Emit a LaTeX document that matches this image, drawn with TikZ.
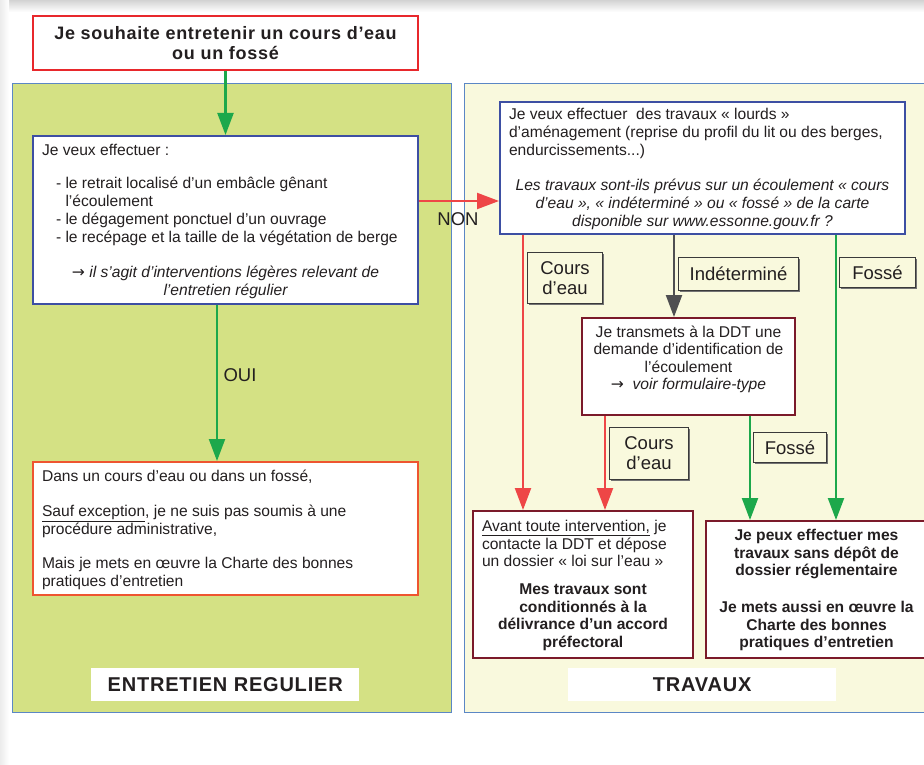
\documentclass[tikz,border=0pt]{standalone}
\usepackage{fontspec}
\setmainfont{Liberation Sans}
\newfontfamily\hdfont[LetterSpace=4]{Liberation Sans}
\newfontfamily\djv{DejaVu Sans}
\usetikzlibrary{arrows.meta,calc,shadows}
\definecolor{txt}{HTML}{231F20}
\definecolor{panelL}{HTML}{D4E184}
\definecolor{panelR}{HTML}{F9F9DD}
\definecolor{panelB}{HTML}{5B87C5}
\definecolor{redb}{HTML}{E8282C}
\definecolor{orangeb}{HTML}{EE5530}
\definecolor{blueb}{HTML}{3D4FA3}
\definecolor{darkred}{HTML}{7B1A2A}
\definecolor{rline}{HTML}{EE4646}
\definecolor{gline}{HTML}{1DA84B}
\definecolor{kline}{HTML}{4F4F51}
\definecolor{labgray}{HTML}{3A3A3A}
\newcommand{\rarr}{{\djv →}}
\begin{document}
\begin{tikzpicture}[x=1pt,y=-1pt,
  every node/.style={text=txt},
  body/.style={font=\fontsize{15.6}{18}\selectfont},
  boxn/.style={body, fill=white, line width=2pt, anchor=north west, inner xsep=9pt, inner ysep=8pt},
  lab/.style={draw=labgray, line width=1.1pt, fill=panelR, anchor=north west, inner sep=0pt,
    align=center, font=\fontsize{18.5}{20}\selectfont,
    drop shadow={shadow xshift=1.2pt, shadow yshift=-1.2pt, fill=black!55, opacity=1}},
  head/.style={fill=white, anchor=north west, inner sep=0pt, font=\hdfont\bfseries\fontsize{20}{22}\selectfont},
  plain/.style={font=\fontsize{18.5}{20}\selectfont},
  arr/.style={line width=2.2pt, -{Triangle[length=22pt,width=16pt]}},
  panel/.style={draw=panelB, line width=0.8pt}
]
\useasboundingbox (0,0) rectangle (924,765);
\fill[white] (0,0) rectangle (924,765);
\shade[top color=gray!35, bottom color=white] (0,0) rectangle (924,12);
\shade[left color=gray!15, right color=white] (0,0) rectangle (9,765);

% panels
\filldraw[panel, fill=panelL] (12,83) rectangle (451,712);
\filldraw[panel, fill=panelR] (464,83) rectangle (932,712);

% headings
\node[head, minimum width=268pt, minimum height=33pt] (hL) at (91,668) {ENTRETIEN REGULIER};
\node[head, minimum width=268pt, minimum height=33pt] (hR) at (568,668) {TRAVAUX};

% top box
\node[draw=redb, line width=2pt, fill=white, anchor=north west, minimum width=385pt, minimum height=54pt,
  inner sep=0pt, align=center, font=\hdfont\bfseries\fontsize{18}{20}\selectfont] (top) at (32,15)
  {Je souhaite entretenir un cours d’eau\\ou un fossé};

% left box 1
\node[boxn, draw=blueb] (lb1) at (32,135) {\begin{minipage}[t][152pt][t]{367pt}\raggedright
Je veux effectuer :\\[15pt]
\hspace*{14pt}- le retrait localisé d’un embâcle gênant\\
\hspace*{23.5pt}l’écoulement\\
\hspace*{14pt}- le dégagement ponctuel d’un ouvrage\\
\hspace*{14pt}- le recépage et la taille de la végétation de berge\par
\vspace{17pt}
{\centering\itshape \rarr\ il s’agit d’interventions légères relevant de\\l’entretien régulier\par}
\end{minipage}};

% left box 2
\node[boxn, draw=orangeb] (lb2) at (32,461) {\begin{minipage}[t][117pt][t]{367pt}\raggedright
Dans un cours d’eau ou dans un fossé,\\[17pt]
\underline{Sauf exception}, je ne suis pas soumis à une\\
procédure administrative,\\[16pt]
Mais je mets en œuvre la Charte des bonnes\\
pratiques d’entretien
\end{minipage}};

% right box 1
\node[boxn, draw=blueb, inner ysep=6pt] (rb1) at (499,101) {\begin{minipage}[t][120pt][t]{387pt}\raggedright
Je veux effectuer \ des travaux « lourds »\\
d’aménagement (reprise du profil du lit ou des berges,\\
endurcissements...)\par
\vspace{17pt}
{\centering\itshape Les travaux sont-ils prévus sur un écoulement « cours\\
d’eau », « indéterminé » ou « fossé » de la carte\\
disponible sur www.essonne.gouv.fr ?\par}
\end{minipage}};

% middle box
\node[boxn, draw=darkred, inner xsep=4pt, font=\fontsize{15.6}{17.5}\selectfont] (mid) at (581,317) {\begin{minipage}[t][81pt][t]{205pt}
{\centering Je transmets à la DDT une\\
demande d’identification de\\
l’écoulement\\
\rarr\ \ \textit{voir formulaire-type}\par}
\end{minipage}};

% bottom left box
\node[boxn, draw=darkred, inner ysep=9.5pt, font=\fontsize{15.6}{17.5}\selectfont] (bl) at (472,510) {\begin{minipage}[t][128pt][t]{202pt}\raggedright
\underline{Avant toute intervention,} je\\
contacte la DDT et dépose\\
un dossier « loi sur l’eau »\par
\vspace{10.5pt}
{\centering\bfseries Mes travaux sont\\
conditionnés à la\\
délivrance d’un accord\\
préfectoral\par}
\end{minipage}};

% bottom right box
\node[boxn, draw=darkred, inner xsep=5pt, inner ysep=8.5pt, font=\fontsize{15.6}{17.5}\selectfont] (br) at (705,520) {\begin{minipage}[t][120pt][t]{211pt}
{\centering\bfseries Je peux effectuer mes\\
travaux sans dépôt de\\
dossier réglementaire\par}
\vspace{19.5pt}
{\centering\bfseries Je mets aussi en œuvre la\\
Charte des bonnes\\
pratiques d’entretien\par}
\end{minipage}};

% connector x positions
\coordinate (xo) at (217,0);
\coordinate (xa) at (523,0);
\coordinate (xb) at (674,0);
\coordinate (xc) at (836,0);
\coordinate (xd) at (605,0);
\coordinate (xe) at (750,0);
\coordinate (yn) at (0,201);

% connectors
\draw[arr, gline] (top.south) -- (lb1.north);
\draw[arr, gline] (lb1.south -| xo) -- (lb2.north -| xo);
\draw[arr, rline] (lb1.east |- yn) -- (rb1.west |- yn);
\draw[arr, rline] (rb1.south -| xa) -- (bl.north -| xa);
\draw[arr, kline] (rb1.south -| xb) -- (mid.north -| xb);
\draw[arr, gline] (rb1.south -| xc) -- (br.north -| xc);
\draw[arr, rline] (mid.south -| xd) -- (bl.north -| xd);
\draw[arr, gline] (mid.south -| xe) -- (br.north -| xe);

% labels
\node[plain] (non) at (458,219) {NON};
\node[plain] (oui) at (240,375) {OUI};
\node[lab, minimum width=75pt, minimum height=51pt] (l1) at (527,252) {Cours\\d’eau};
\node[lab, minimum width=120pt, minimum height=33pt] (l2) at (678,257) {Indéterminé};
\node[lab, minimum width=76pt, minimum height=30pt] (l3) at (839,257) {Fossé};
\node[lab, minimum width=79pt, minimum height=52pt] (l4) at (609,427) {Cours\\d’eau};
\node[lab, minimum width=73pt, minimum height=30pt] (l5) at (753,432) {Fossé};
\end{tikzpicture}
\end{document}
